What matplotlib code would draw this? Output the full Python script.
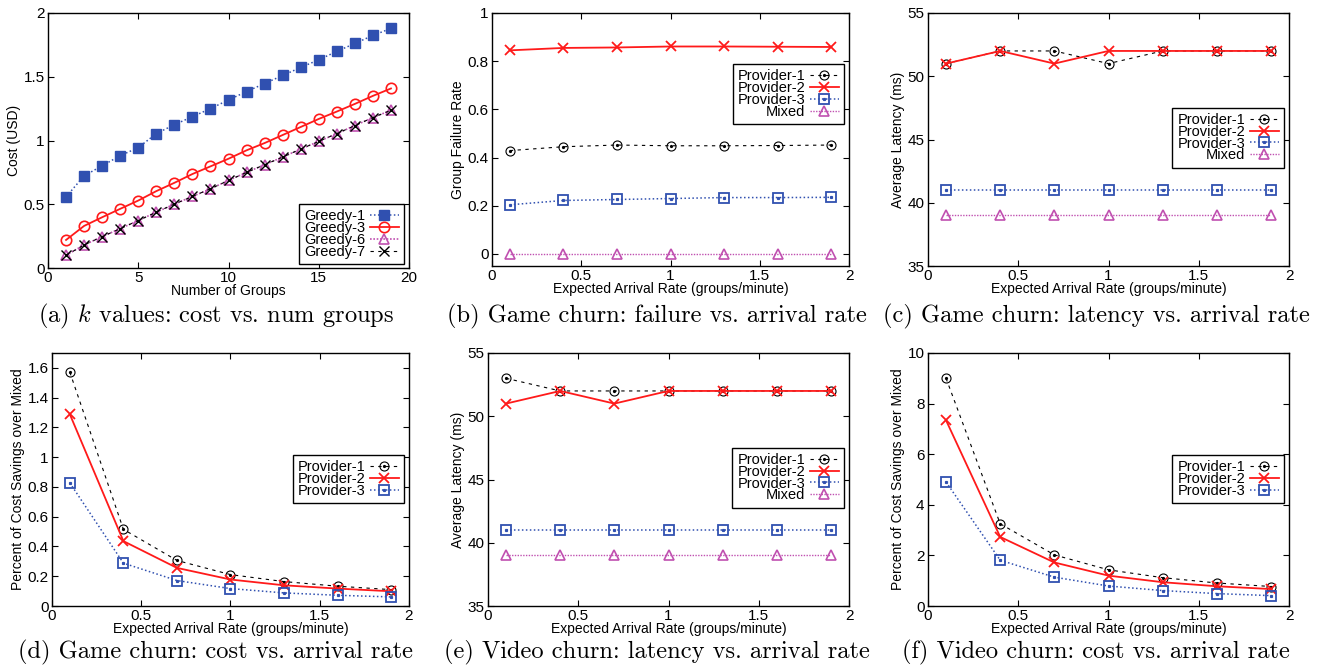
import matplotlib
matplotlib.use("Agg")
import matplotlib.pyplot as plt
from matplotlib.ticker import FormatStrFormatter, MultipleLocator
from matplotlib.legend_handler import HandlerTuple

plt.rcParams['font.family'] = ['Liberation Sans', 'DejaVu Sans']
plt.rcParams['mathtext.fontset'] = 'cm'

# ---------------- data ----------------
num_groups = list(range(1, 20))
greedy1 = [0.558, 0.723, 0.802, 0.881, 0.944, 1.054, 1.124, 1.187, 1.250, 1.318,
           1.384, 1.447, 1.510, 1.573, 1.633, 1.699, 1.761, 1.824, 1.879]
greedy3 = [0.220, 0.330, 0.398, 0.464, 0.529, 0.603, 0.668, 0.737, 0.797, 0.857,
           0.923, 0.980, 1.043, 1.106, 1.169, 1.227, 1.287, 1.350, 1.408]
greedy6 = [0.100, 0.181, 0.246, 0.309, 0.372, 0.438, 0.501, 0.561, 0.621, 0.687,
           0.750, 0.810, 0.870, 0.933, 0.993, 1.054, 1.117, 1.180, 1.237]
greedy7 = [0.100, 0.181, 0.246, 0.309, 0.372, 0.438, 0.501, 0.561, 0.621, 0.687,
           0.750, 0.810, 0.870, 0.933, 0.993, 1.054, 1.117, 1.180, 1.237]

arrival = [0.1, 0.4, 0.7, 1.0, 1.3, 1.6, 1.9]

b_p1 = [0.429, 0.445, 0.452, 0.449, 0.449, 0.450, 0.452]
b_p2 = [0.845, 0.855, 0.857, 0.861, 0.861, 0.860, 0.859]
b_p3 = [0.204, 0.222, 0.226, 0.230, 0.234, 0.234, 0.235]
b_mx = [0.0, 0.0, 0.0, 0.0, 0.0, 0.0, 0.0]

c_p1 = [51, 52, 52, 51, 52, 52, 52]
c_p2 = [51, 52, 51, 52, 52, 52, 52]
c_p3 = [41, 41, 41, 41, 41, 41, 41]
c_mx = [39, 39, 39, 39, 39, 39, 39]

d_p1 = [1.571, 0.515, 0.306, 0.211, 0.164, 0.133, 0.110]
d_p2 = [1.288, 0.436, 0.256, 0.178, 0.139, 0.117, 0.099]
d_p3 = [0.827, 0.288, 0.171, 0.117, 0.088, 0.072, 0.061]

e_p1 = [53, 52, 52, 52, 52, 52, 52]
e_p2 = [51, 52, 51, 52, 52, 52, 52]
e_p3 = [41, 41, 41, 41, 41, 41, 41]
e_mx = [39, 39, 39, 39, 39, 39, 39]

f_p1 = [9.00, 3.25, 2.02, 1.43, 1.12, 0.91, 0.77]
f_p2 = [7.34, 2.73, 1.72, 1.20, 0.94, 0.78, 0.67]
f_p3 = [4.90, 1.81, 1.14, 0.79, 0.61, 0.49, 0.41]

captions = [
    r"(a) $k$ values: cost vs. num groups",
    "(b) Game churn: failure vs. arrival rate",
    "(c) Game churn: latency vs. arrival rate",
    "(d) Game churn: cost vs. arrival rate",
    "(e) Video churn: latency vs. arrival rate",
    "(f) Video churn: cost vs. arrival rate",
]

# ---------------- styles ----------------
BLACK = '#000000'
RED = '#ff1a1a'
BLUE = '#3050b0'
PINK = '#c050b0'
DASH = (0, (3, 4))
DOT = (0, (1, 1.6))
DOT2 = (0, (1, 1))

W, H = 1323, 669
fig = plt.figure(figsize=(W / 100, H / 100), dpi=100)


def make_ax(l, r, t, b):
    return fig.add_axes([l / W, (H - b) / H, (r - l) / W, (b - t) / H])


def style_ax(ax):
    ax.tick_params(direction='in', top=True, right=True, length=4, width=0.8,
                   labelsize=11, pad=2.5)
    for s in ax.spines.values():
        s.set_linewidth(1.0)
    ax.xaxis.set_major_formatter(FormatStrFormatter('%g'))
    ax.yaxis.set_major_formatter(FormatStrFormatter('%g'))


def series(ax, x, y, kind):
    """Plot one series in gnuplot-like style; return legend handle."""
    if kind == 'p1':
        ln, = ax.plot(x, y, color=BLACK, ls=DASH, lw=0.8, marker='o', ms=6.5,
                      mfc='none', mec=BLACK, mew=0.8)
        dot, = ax.plot(x, y, ls='none', marker='o', ms=1.3, color=BLACK)
        return (ln, dot)
    if kind == 'p2':
        ln, = ax.plot(x, y, color=RED, ls='-', lw=1.3, marker='x', ms=7, mew=1.3)
        return ln
    if kind == 'p3':
        ln, = ax.plot(x, y, color=BLUE, ls=DOT, lw=1.1, marker='s', ms=6.5,
                      mfc='none', mec=BLUE, mew=1.3)
        dot, = ax.plot(x, y, ls='none', marker='s', ms=1.3, color=BLUE)
        return (ln, dot)
    if kind == 'mx':
        ln, = ax.plot(x, y, color=PINK, ls=DOT2, lw=1.0, marker='^', ms=6.5,
                      mfc='none', mec=PINK, mew=1.2)
        return ln
    if kind == 'g1':
        ln, = ax.plot(x, y, color=BLUE, ls=DOT, lw=1.1, marker='s', ms=6.5,
                      mfc=BLUE, mec=BLUE)
        return ln
    if kind == 'g3':
        ln, = ax.plot(x, y, color=RED, ls='-', lw=1.3, marker='o', ms=7.5,
                      mfc='none', mec=RED, mew=1.2)
        return ln
    if kind == 'g6':
        ln, = ax.plot(x, y, color=PINK, ls=DOT2, lw=1.2, marker='^', ms=6.5,
                      mfc='none', mec=PINK, mew=1.2)
        return ln
    if kind == 'g7':
        ln, = ax.plot(x, y, color=BLACK, ls=DASH, lw=0.8, marker='x', ms=6.5,
                      mew=1.0)
        return ln


def legend(ax, handles, labels, loc, anchor):
    leg = ax.legend(handles, labels, loc=loc, bbox_to_anchor=anchor,
                    markerfirst=False, numpoints=1, fancybox=False,
                    edgecolor='black', framealpha=1, fontsize=10.5,
                    handlelength=2.0, handletextpad=0.3, labelspacing=-0.15,
                    borderpad=0.35, borderaxespad=0,
                    handler_map={tuple: HandlerTuple(ndivide=1)})
    leg.get_frame().set_linewidth(1.0)
    return leg


def arrival_axes(ax):
    ax.set_xlim(0, 2)
    ax.xaxis.set_major_locator(MultipleLocator(0.5))
    ax.set_xlabel('Expected Arrival Rate (groups/minute)', fontsize=10, labelpad=-1)


# ---------------- (a) ----------------
ax = make_ax(48, 409, 13, 268)
style_ax(ax)
h = [series(ax, num_groups, greedy1, 'g1'),
     series(ax, num_groups, greedy3, 'g3'),
     series(ax, num_groups, greedy6, 'g6'),
     series(ax, num_groups, greedy7, 'g7')]
ax.set_xlim(0, 20)
ax.set_ylim(0, 2)
ax.xaxis.set_major_locator(MultipleLocator(5))
ax.yaxis.set_major_locator(MultipleLocator(0.5))
ax.set_xlabel('Number of Groups', fontsize=10, labelpad=-1)
ax.set_ylabel('Cost (USD)', fontsize=10, labelpad=2)
legend(ax, h, ['Greedy-1', 'Greedy-3', 'Greedy-6', 'Greedy-7'], 'lower right', (0.986, 0.016))

# ---------------- (b) ----------------
ax = make_ax(492, 849, 13, 266)
style_ax(ax)
h = [series(ax, arrival, b_p1, 'p1'), series(ax, arrival, b_p2, 'p2'),
     series(ax, arrival, b_p3, 'p3'), series(ax, arrival, b_mx, 'mx')]
arrival_axes(ax)
ax.set_ylim(-0.05, 1)
ax.yaxis.set_major_locator(MultipleLocator(0.2))
ax.set_ylabel('Group Failure Rate', fontsize=10, labelpad=2)
legend(ax, h, ['Provider-1', 'Provider-2', 'Provider-3', 'Mixed'], 'upper right', (0.986, 0.798))

# ---------------- (c) ----------------
ax = make_ax(928, 1289, 13, 266)
style_ax(ax)
h = [series(ax, arrival, c_p1, 'p1'), series(ax, arrival, c_p2, 'p2'),
     series(ax, arrival, c_p3, 'p3'), series(ax, arrival, c_mx, 'mx')]
arrival_axes(ax)
ax.set_ylim(35, 55)
ax.yaxis.set_major_locator(MultipleLocator(5))
ax.set_ylabel('Average Latency (ms)', fontsize=10, labelpad=2)
legend(ax, h, ['Provider-1', 'Provider-2', 'Provider-3', 'Mixed'], 'upper right', (0.986, 0.625))

# ---------------- (d) ----------------
ax = make_ax(52, 409, 353, 606)
style_ax(ax)
h = [series(ax, arrival, d_p1, 'p1'), series(ax, arrival, d_p2, 'p2'),
     series(ax, arrival, d_p3, 'p3')]
arrival_axes(ax)
ax.set_ylim(0, 1.7)
ax.yaxis.set_major_locator(MultipleLocator(0.2))
ax.set_ylabel('Percent of Cost Savings over Mixed', fontsize=10, labelpad=2)
legend(ax, h, ['Provider-1', 'Provider-2', 'Provider-3'], 'upper right', (0.986, 0.597))

# ---------------- (e) ----------------
ax = make_ax(488, 849, 353, 606)
style_ax(ax)
h = [series(ax, arrival, e_p1, 'p1'), series(ax, arrival, e_p2, 'p2'),
     series(ax, arrival, e_p3, 'p3'), series(ax, arrival, e_mx, 'mx')]
arrival_axes(ax)
ax.set_ylim(35, 55)
ax.yaxis.set_major_locator(MultipleLocator(5))
ax.set_ylabel('Average Latency (ms)', fontsize=10, labelpad=2)
legend(ax, h, ['Provider-1', 'Provider-2', 'Provider-3', 'Mixed'], 'upper right', (0.986, 0.625))

# ---------------- (f) ----------------
ax = make_ax(928, 1289, 353, 606)
style_ax(ax)
h = [series(ax, arrival, f_p1, 'p1'), series(ax, arrival, f_p2, 'p2'),
     series(ax, arrival, f_p3, 'p3')]
arrival_axes(ax)
ax.set_ylim(0, 10)
ax.yaxis.set_major_locator(MultipleLocator(2))
ax.set_ylabel('Percent of Cost Savings over Mixed', fontsize=10, labelpad=2)
legend(ax, h, ['Provider-1', 'Provider-2', 'Provider-3'], 'upper right', (0.986, 0.597))

# ---------------- captions ----------------
cap_pos = [(216, 316), (657, 316), (1096, 316), (216, 652), (657, 652), (1096, 652)]
for (cx, cy), txt in zip(cap_pos, captions):
    fig.text(cx / W, 1 - cy / H, txt, ha='center', va='center',
             fontsize=17.6, family=['cmr10', 'DejaVu Serif'])

fig.savefig('out.png', dpi=100)
